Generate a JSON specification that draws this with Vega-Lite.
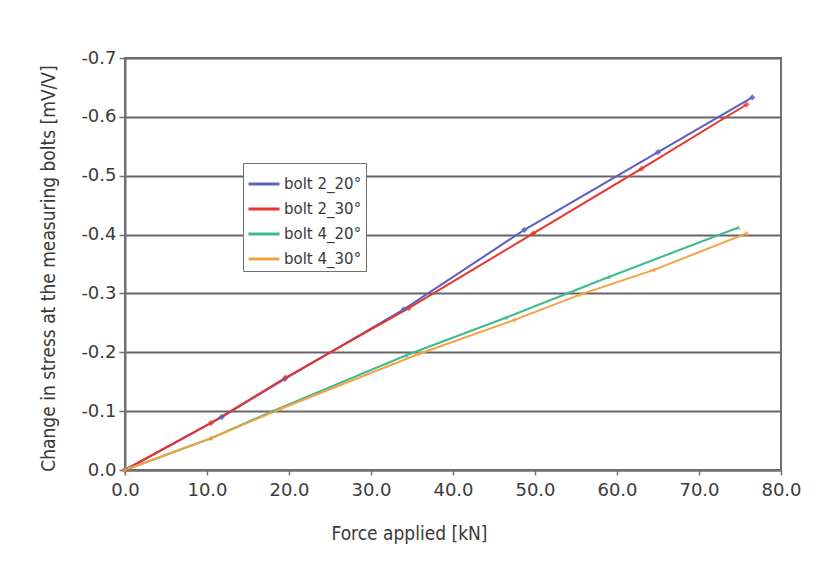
{
  "$schema": "https://vega.github.io/schema/vega-lite/v6.json",
  "width": 656,
  "height": 412,
  "autosize": {"type": "none"},
  "padding": {"left": 125, "top": 58, "right": 42, "bottom": 99},
  "background": "white",
  "config": {
    "font": "DejaVu Sans",
    "view": {"stroke": "#707070", "strokeWidth": 2},
    "axis": {
      "labelFont": "DejaVu Sans",
      "titleFont": "DejaVu Sans Condensed",
      "labelFontSize": 18,
      "titleFontSize": 19,
      "labelColor": "#3a3a3a",
      "titleColor": "#3a3a3a",
      "titleFontWeight": "normal",
      "domainColor": "#707070",
      "tickColor": "#707070",
      "domainWidth": 2,
      "labelFlush": false,
      "labelOverlap": false
    }
  },
  "data": {
    "values": [
      {"series": "bolt 2_20°", "force": 0, "stress": 0},
      {"series": "bolt 2_20°", "force": 11.8, "stress": -0.09},
      {"series": "bolt 2_20°", "force": 19.5, "stress": -0.155},
      {"series": "bolt 2_20°", "force": 34.0, "stress": -0.273},
      {"series": "bolt 2_20°", "force": 48.7, "stress": -0.408},
      {"series": "bolt 2_20°", "force": 65.0, "stress": -0.54},
      {"series": "bolt 2_20°", "force": 76.5, "stress": -0.633},
      {"series": "bolt 2_30°", "force": 0, "stress": 0},
      {"series": "bolt 2_30°", "force": 10.5, "stress": -0.08},
      {"series": "bolt 2_30°", "force": 19.6, "stress": -0.157},
      {"series": "bolt 2_30°", "force": 34.6, "stress": -0.275},
      {"series": "bolt 2_30°", "force": 49.8, "stress": -0.402},
      {"series": "bolt 2_30°", "force": 63.0, "stress": -0.512},
      {"series": "bolt 2_30°", "force": 75.8, "stress": -0.621},
      {"series": "bolt 4_20°", "force": 0, "stress": 0},
      {"series": "bolt 4_20°", "force": 10.5, "stress": -0.054},
      {"series": "bolt 4_20°", "force": 18.0, "stress": -0.1},
      {"series": "bolt 4_20°", "force": 34.3, "stress": -0.195},
      {"series": "bolt 4_20°", "force": 46.5, "stress": -0.259},
      {"series": "bolt 4_20°", "force": 59.0, "stress": -0.328},
      {"series": "bolt 4_20°", "force": 74.8, "stress": -0.412},
      {"series": "bolt 4_30°", "force": 0, "stress": 0},
      {"series": "bolt 4_30°", "force": 10.5, "stress": -0.054},
      {"series": "bolt 4_30°", "force": 19.0, "stress": -0.104},
      {"series": "bolt 4_30°", "force": 35.8, "stress": -0.197},
      {"series": "bolt 4_30°", "force": 47.5, "stress": -0.255},
      {"series": "bolt 4_30°", "force": 55.5, "stress": -0.298},
      {"series": "bolt 4_30°", "force": 64.5, "stress": -0.34},
      {"series": "bolt 4_30°", "force": 75.8, "stress": -0.402}
    ]
  },
  "encoding": {
    "x": {
      "field": "force", "type": "quantitative",
      "scale": {"domain": [0, 80], "nice": false},
      "axis": {
        "title": "Force applied [kN]",
        "values": [0, 10, 20, 30, 40, 50, 60, 70, 80],
        "format": ".1f",
        "grid": false,
        "tickSize": 5,
        "tickWidth": 1.5,
        "labelPadding": 6,
        "titleX": 284,
        "titleY": 63,
        "titleBaseline": "middle"
      }
    },
    "y": {
      "field": "stress", "type": "quantitative",
      "scale": {"domain": [-0.7, 0], "reverse": true, "nice": false},
      "axis": {
        "title": "Change in stress at the measuring bolts [mV/V]",
        "values": [0, -0.1, -0.2, -0.3, -0.4, -0.5, -0.6, -0.7],
        "format": ".1f",
        "labelExpr": "replace(datum.label, '−', '-')",
        "grid": true,
        "gridColor": "#666666",
        "gridWidth": 2,
        "gridOpacity": 1,
        "tickSize": 6,
        "tickWidth": 1.5,
        "labelPadding": 3,
        "titleX": -77,
        "titleY": 210,
        "titleAlign": "center",
        "titleBaseline": "middle"
      }
    },
    "color": {
      "field": "series", "type": "nominal",
      "scale": {
        "domain": ["bolt 2_20°", "bolt 2_30°", "bolt 4_20°", "bolt 4_30°"],
        "range": ["#5a5fc4", "#e8352b", "#3dba8c", "#f5a043"]
      }
    }
  },
  "layer": [
    {
      "mark": {"type": "line", "strokeWidth": 2},
      "encoding": {
        "color": {
          "field": "series", "type": "nominal",
          "legend": {
            "title": null,
            "orient": "none",
            "legendX": 118,
            "legendY": 105,
            "symbolType": "stroke",
            "symbolStrokeWidth": 3,
            "symbolSize": 961,
            "labelFontSize": 15,
            "labelFont": "DejaVu Sans",
            "labelColor": "#3a3a3a",
            "strokeColor": "#707070",
            "fillColor": "white",
            "padding": 4,
            "rowPadding": 0,
            "labelOffset": 3
          }
        }
      }
    },
    {
      "transform": [{"filter": "datum.series === 'bolt 2_20°'"}],
      "mark": {"type": "point", "shape": "diamond", "filled": true, "size": 40, "opacity": 0.8},
      "encoding": {"color": {"field": "series", "type": "nominal", "legend": null}}
    },
    {
      "transform": [{"filter": "datum.series === 'bolt 2_30°'"}],
      "mark": {"type": "point", "shape": "diamond", "filled": true, "size": 40},
      "encoding": {"color": {"field": "series", "type": "nominal", "legend": null}}
    },
    {
      "transform": [{"filter": "datum.series === 'bolt 4_20°'"}],
      "mark": {"type": "point", "shape": "triangle-up", "filled": true, "size": 20},
      "encoding": {"color": {"field": "series", "type": "nominal", "legend": null}}
    },
    {
      "transform": [{"filter": "datum.series === 'bolt 4_30°'"}],
      "mark": {"type": "point", "shape": "cross", "filled": true, "size": 20},
      "encoding": {"color": {"field": "series", "type": "nominal", "legend": null}}
    }
  ]
}
